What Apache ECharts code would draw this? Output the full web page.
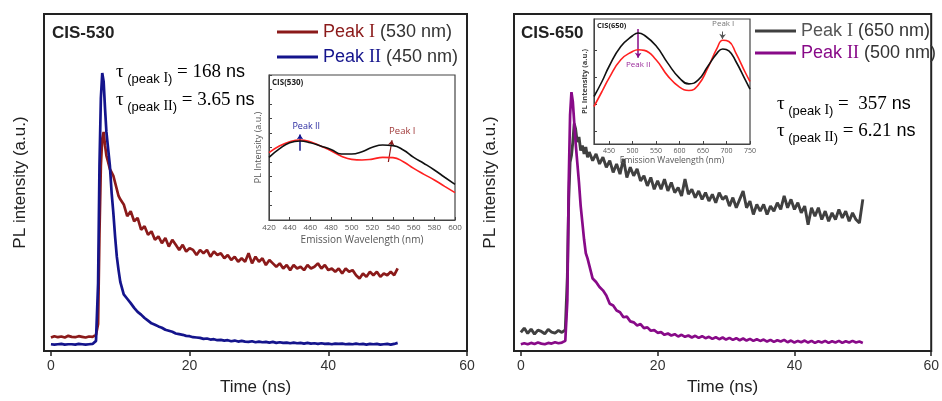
<!DOCTYPE html>
<html><head><meta charset="utf-8">
<script src="https://cdn.jsdelivr.net/npm/echarts@6/dist/echarts.min.js"></script>
<style>html,body{margin:0;padding:0;background:#fff}#c{width:942px;height:401px}</style>
</head><body><div id="c"></div>
<script>
// ---------- main decay data ----------
const timeNs = [0,0.5,1,1.5,2,2.5,3,3.5,4,4.5,5,5.5,6,6.5,
  6.8,7.0,7.2,7.4,7.6,7.8,8.0,8.25,8.5,8.75,9,9.25,9.5,9.75,10,
  10.5,11,11.5,12,12.5,13,13.5,14,14.5,15,
  15.5,16,16.5,17,17.5,18,18.5,19,19.5,20,
  20.5,21,21.5,22,22.5,23,23.5,24,24.5,25,
  25.5,26,26.5,27,27.5,28,28.5,29,29.5,30,
  30.5,31,31.5,32,32.5,33,33.5,34,34.5,35,
  35.5,36,36.5,37,37.5,38,38.5,39,39.5,40,
  40.5,41,41.5,42,42.5,43,43.5,44,44.5,45,
  45.5,46,46.5,47,47.5,48,48.5,49,49.5,50];

const cis530PeakI = [4.0,4.4,4.1,4.3,4.0,4.5,4.2,4.1,4.4,4.2,4.0,4.3,4.2,4.8,
  8,35,55,63,65,61,58,56,54,53,52,50,48,46,45,
  43.5,40.0,41.5,38.5,39.5,36.0,37.0,34.5,35.5,33.0,
  34.0,32.0,33.5,31.0,33.0,31.5,30.0,31.5,29.5,30.5,
  30.0,28.5,30.0,29.0,30.0,28.0,29.5,28.5,29.0,27.5,
  28.5,27.0,28.0,26.5,27.5,26.5,29.0,26.0,28.0,26.5,
  27.5,25.5,27.0,26.0,25.0,26.0,24.5,25.5,24.0,25.5,
  24.5,25.0,24.0,25.5,24.5,25.0,26.0,24.5,25.5,24.0,
  24.5,23.5,24.5,23.0,24.5,23.5,24.0,22.5,21.5,23.0,
  22.0,23.5,22.5,23.5,22.0,23.0,22.5,23.5,22.5,24.5];

const cis530PeakII = [2.0,1.9,2.0,2.1,1.9,2.0,2.0,1.9,2.1,2.0,1.9,2.0,2.1,3.0,
  20,55,75,82.5,80,72,65,60,55,47,41,34,28,24,20.5,
  16.8,15.5,14.2,12.8,11.6,10.8,9.8,9.0,8.2,7.8,
  7.3,6.9,6.3,6.0,5.7,5.2,5.0,4.8,4.5,4.4,
  4.1,4.0,3.9,3.6,3.7,3.4,3.5,3.2,3.3,3.1,
  3.2,2.9,3.1,2.8,3.0,2.8,2.7,2.9,2.6,2.8,
  2.6,2.7,2.5,2.7,2.4,2.6,2.4,2.5,2.3,2.5,
  2.3,2.4,2.2,2.4,2.2,2.3,2.1,2.3,2.1,2.2,
  2.0,2.2,2.1,2.2,2.0,2.1,2.0,2.2,2.0,2.1,
  1.9,2.1,2.0,2.1,1.9,2.0,2.1,1.9,2.1,2.4];

const cis650PeakI = [5.5,6.8,5.2,6.5,5.0,6.2,5.8,5.1,6.4,5.6,5.3,6.1,5.5,6.3,
  22,45,56,58,62,67.5,66,62,63.5,59.5,61,58.5,60.5,57.5,59,
  56.5,58.5,55.5,57.5,54.5,56.5,53.0,55.5,52.5,57.0,
  51.5,54.5,52.0,54.0,50.5,52.0,49.0,51.5,48.0,50.5,
  48.0,51.0,47.5,50.0,47.0,48.5,46.0,51.0,46.5,48.0,
  45.5,47.5,45.0,47.0,44.5,46.5,44.0,47.0,45.0,46.0,
  43.0,45.5,42.5,45.0,47.5,42.5,44.5,40.5,43.5,41.5,
  43.5,40.5,43.0,41.5,44.0,42.0,46.0,42.5,45.0,42.0,
  44.0,41.0,43.0,37.5,42.5,40.0,42.5,39.0,41.5,38.5,
  41.0,39.0,42.0,39.5,41.5,38.5,41.0,39.0,38.0,45.0];

const cis650PeakII = [2.0,2.3,2.0,2.4,2.1,2.5,2.2,2.0,2.4,2.2,2.6,2.3,2.5,3.0,
  15,50,70,76.8,74,68,62,56,50,43,38,33,29,27.5,25.5,
  21.5,20.5,19.0,18.0,16.5,14.0,13.5,12.0,11.5,10.0,
  10.2,8.8,8.5,7.6,8.0,6.8,7.0,6.0,6.2,5.4,
  5.6,4.8,5.2,4.6,5.0,4.3,4.8,4.2,4.6,4.0,
  4.5,3.9,4.4,3.8,4.2,3.6,4.1,3.5,4.0,3.4,
  3.9,3.3,3.8,3.2,3.7,3.1,3.6,3.0,3.5,3.0,
  3.4,2.8,3.3,2.7,3.2,2.8,3.3,2.6,3.1,2.5,
  3.0,2.6,3.1,2.5,3.0,2.4,2.9,2.5,3.0,2.4,
  2.9,2.5,3.0,2.4,2.9,2.5,3.0,2.5,2.8,2.4];

const timeTicks = [0,20,40,60];

// ---------- inset emission spectra ----------
const wl530 = [420,430,440,450,460,470,480,490,500,510,520,530,540,550,560,570,580,590,600];
const pl530Black = [4.32,4.9,5.33,5.45,5.33,5.1,4.87,4.55,4.55,4.71,5.01,5.17,5.13,4.83,4.32,3.9,3.45,2.95,2.46];
const pl530Red = [4.64,5.1,5.4,5.52,5.4,5.1,4.78,4.4,4.18,4.14,4.2,4.32,4.3,4.02,3.56,3.15,2.76,2.32,1.89];

const wl650 = [418,435,450,475,500,512,525,550,575,600,620,640,660,680,692,705,720,740,750];
const pl650Black = [3.8,5.0,6.2,7.8,8.66,8.88,8.7,7.86,6.47,5.27,4.81,5.13,6.2,7.27,7.6,7.45,6.6,5.13,4.39];
const pl650Red = [3.0,4.2,5.27,6.74,7.4,7.54,7.49,6.74,5.45,4.55,4.28,4.73,6.07,7.67,8.3,8.2,7.27,5.72,5.0];
const wl650Ticks = [450,500,550,600,650,700,750];

const C_RED = '#8b1a1a', C_BLUE = '#14148c', C_GRAY = '#404040', C_PURP = '#880a88';
const SANS = 'Liberation Sans, Arial, sans-serif';
const SERIF = 'Liberation Serif, Times New Roman, serif';

const zip = (xs, ys) => xs.map((x, i) => [x, ys[i]]);

const chart = echarts.init(document.getElementById('c'), null, {renderer: 'canvas'});

function mainX(gi) {
  return {
    gridIndex: gi, type: 'value', min: -1, max: 60,
    axisLine: {show: true, lineStyle: {color: '#222', width: 2}},
    axisTick: {show: true, customValues: timeTicks, length: 5, lineStyle: {color: '#222', width: 1.5}},
    axisLabel: {customValues: timeTicks, fontSize: 14, color: '#333', margin: 8, fontFamily: SANS},
    splitLine: {show: false},
    name: 'Time (ns)', nameLocation: 'middle', nameGap: 28,
    nameTextStyle: {fontSize: 17, color: '#222', fontFamily: SANS}
  };
}
function mainY(gi) {
  return {
    gridIndex: gi, type: 'value', min: 0, max: 100,
    axisLine: {show: false}, axisTick: {show: false}, axisLabel: {show: false}, splitLine: {show: false},
    name: 'PL intensity (a.u.)', nameLocation: 'middle', nameGap: 15,
    nameTextStyle: {fontSize: 17, color: '#222', fontFamily: SANS}
  };
}

const legendRich = {
  r: {color: C_RED, fontSize: 18, fontFamily: SANS},
  rs: {color: C_RED, fontSize: 18, fontFamily: SERIF},
  b: {color: C_BLUE, fontSize: 18, fontFamily: SANS},
  bs: {color: C_BLUE, fontSize: 18, fontFamily: SERIF},
  g: {color: '#555', fontSize: 18, fontFamily: SANS},
  gs: {color: '#555', fontSize: 18, fontFamily: SERIF},
  p: {color: C_PURP, fontSize: 18, fontFamily: SANS},
  ps: {color: C_PURP, fontSize: 18, fontFamily: SERIF},
  k: {color: '#333', fontSize: 18, fontFamily: SANS}
};
const legendFmt = {
  'Peak I (530 nm)': '{r|Peak }{rs|I}{k| (530 nm)}',
  'Peak II (450 nm)': '{b|Peak }{bs|II}{k| (450 nm)}',
  'Peak I (650 nm)': '{g|Peak }{gs|I}{k| (650 nm)}',
  'Peak II (500 nm)': '{p|Peak }{ps|II}{k| (500 nm)}'
};

const tauRich = (subColor) => ({
  t: {fontSize: 19, fontFamily: SERIF, color: '#222', verticalAlign: 'middle', lineHeight: 26},
  s: {fontSize: 13, fontFamily: SANS, color: subColor, verticalAlign: 'bottom', lineHeight: 26},
  ss: {fontSize: 14, fontFamily: SERIF, color: subColor, verticalAlign: 'bottom', lineHeight: 26},
  e: {fontSize: 19, fontFamily: SERIF, color: '#222', verticalAlign: 'middle', lineHeight: 26},
  n: {fontSize: 18, fontFamily: SANS, color: '#222', verticalAlign: 'middle', lineHeight: 26}
});

function insetText(coord, text, color, size) {
  return {coord: coord, symbol: 'circle', symbolSize: 1, itemStyle: {color: 'rgba(0,0,0,0)'},
    label: {show: true, position: 'inside', formatter: text, color: color, fontSize: size, fontFamily: 'Open Sans, sans-serif'}};
}

const option = {
  backgroundColor: '#fff',
  animation: false,
  grid: [
    {left: 44, top: 14, width: 423, height: 342, show: true, borderColor: '#222', borderWidth: 2, backgroundColor: '#fff'},
    {left: 514, top: 14, width: 423, height: 342, show: true, borderColor: '#222', borderWidth: 2, backgroundColor: '#fff'},
    {left: 269, top: 75, width: 186, height: 145, show: true, borderColor: '#444', borderWidth: 1.2, backgroundColor: '#fff', z: 5},
    {left: 594, top: 19, width: 156, height: 125, show: true, borderColor: '#444', borderWidth: 1.2, backgroundColor: '#fff', z: 5}
  ],
  xAxis: [
    mainX(0), mainX(1),
    {gridIndex: 2, type: 'value', min: 420, max: 600, interval: 20, z: 6,
      axisLine: {show: true, lineStyle: {color: '#444'}},
      axisTick: {inside: true, length: 3, lineStyle: {color: '#444'}},
      axisLabel: {fontSize: 8, color: '#555', margin: 4, fontFamily: 'Open Sans, sans-serif'},
      splitLine: {show: false},
      name: 'Emission Wavelength (nm)', nameLocation: 'middle', nameGap: 15,
      nameTextStyle: {fontSize: 10, color: '#555', fontFamily: 'Open Sans, sans-serif'}},
    {gridIndex: 3, type: 'value', min: 418, max: 750, z: 6,
      axisLine: {show: true, lineStyle: {color: '#444'}},
      axisTick: {inside: true, length: 3, customValues: wl650Ticks, lineStyle: {color: '#444'}},
      axisLabel: {customValues: wl650Ticks, fontSize: 7, color: '#555', margin: 3, fontFamily: 'Open Sans, sans-serif'},
      splitLine: {show: false},
      name: 'Emission Wavelength (nm)', nameLocation: 'middle', nameGap: 12,
      nameTextStyle: {fontSize: 8.5, color: '#555', fontFamily: 'Open Sans, sans-serif'}}
  ],
  yAxis: [
    mainY(0), mainY(1),
    {gridIndex: 2, type: 'value', min: 0, max: 10, interval: 1, z: 6,
      axisLine: {show: true, lineStyle: {color: '#444'}},
      axisTick: {inside: true, length: 3, lineStyle: {color: '#444'}},
      axisLabel: {show: false}, splitLine: {show: false},
      name: 'PL Intensity (a.u.)', nameLocation: 'middle', nameGap: 6,
      nameTextStyle: {fontSize: 9, color: '#555', fontFamily: 'Open Sans, sans-serif'}},
    {gridIndex: 3, type: 'value', min: 0, max: 10, z: 6,
      axisLine: {show: true, lineStyle: {color: '#444'}},
      axisTick: {inside: true, length: 3, customValues: [1.05, 3.2, 5.35, 7.5], lineStyle: {color: '#444'}},
      axisLabel: {show: false}, splitLine: {show: false},
      name: 'PL Intensity (a.u.)', nameLocation: 'middle', nameGap: 5,
      nameTextStyle: {fontSize: 7.5, fontWeight: 'bold', color: '#444', fontFamily: 'Open Sans, sans-serif'}}
  ],
  legend: [
    {data: ['Peak I (530 nm)', 'Peak II (450 nm)'], left: 277, top: 22, padding: 0, orient: 'vertical', itemGap: 5,
      icon: 'rect', itemWidth: 41, itemHeight: 3,
      formatter: n => legendFmt[n], textStyle: {fontSize: 18, lineHeight: 20, rich: legendRich}},
    {data: ['Peak I (650 nm)', 'Peak II (500 nm)'], left: 755, top: 21, padding: 0, orient: 'vertical', itemGap: 2,
      icon: 'rect', itemWidth: 41, itemHeight: 3,
      formatter: n => legendFmt[n], textStyle: {fontSize: 18, lineHeight: 20, rich: legendRich}}
  ],
  series: [
    {name: 'Peak I (530 nm)', type: 'line', xAxisIndex: 0, yAxisIndex: 0, data: zip(timeNs, cis530PeakI),
      showSymbol: false, color: C_RED, lineStyle: {width: 2.7, color: C_RED}},
    {name: 'Peak II (450 nm)', type: 'line', xAxisIndex: 0, yAxisIndex: 0, data: zip(timeNs, cis530PeakII),
      showSymbol: false, color: C_BLUE, lineStyle: {width: 2.7, color: C_BLUE}},
    {name: 'Peak I (650 nm)', type: 'line', xAxisIndex: 1, yAxisIndex: 1, data: zip(timeNs, cis650PeakI),
      showSymbol: false, color: C_GRAY, lineStyle: {width: 2.9, color: C_GRAY}},
    {name: 'Peak II (500 nm)', type: 'line', xAxisIndex: 1, yAxisIndex: 1, data: zip(timeNs, cis650PeakII),
      showSymbol: false, color: C_PURP, lineStyle: {width: 2.7, color: C_PURP}},
    {name: 'inset530black', type: 'line', xAxisIndex: 2, yAxisIndex: 2, data: zip(wl530, pl530Black), z: 7,
      smooth: true, showSymbol: false, lineStyle: {width: 1.6, color: '#111'}, color: '#111',
      markLine: {silent: true, symbol: ['arrow', 'none'], symbolSize: 5, label: {show: false}, animation: false,
        data: [
          [{coord: [450, 5.9], lineStyle: {color: C_BLUE, width: 1.5, type: 'solid'}, itemStyle: {color: C_BLUE}}, {coord: [450, 4.78]}],
          [{coord: [539, 5.5], lineStyle: {color: C_RED, width: 1.2, type: 'solid'}, itemStyle: {color: C_RED}}, {coord: [535.5, 4.0]}]
        ]},
      markPoint: {silent: true, data: [
        insetText([456, 6.45], 'Peak II', '#2a2aa0', 9),
        insetText([549, 6.15], 'Peak I', '#a03a3a', 9.5)
      ]}},
    {name: 'inset530red', type: 'line', xAxisIndex: 2, yAxisIndex: 2, data: zip(wl530, pl530Red), z: 6,
      smooth: true, showSymbol: false, lineStyle: {width: 1.6, color: '#ff2020'}, color: '#ff2020'},
    {name: 'inset650black', type: 'line', xAxisIndex: 3, yAxisIndex: 3, data: zip(wl650, pl650Black), z: 7,
      smooth: true, showSymbol: false, lineStyle: {width: 1.6, color: '#111'}, color: '#111',
      markLine: {silent: true, symbol: ['none', 'arrow'], symbolSize: 5, label: {show: false}, animation: false,
        data: [
          [{coord: [512, 9.2], lineStyle: {color: C_PURP, width: 1.5, type: 'solid'}, itemStyle: {color: C_PURP}}, {coord: [512, 6.9]}],
          [{coord: [692, 9.0], lineStyle: {color: '#555', width: 1, type: 'solid'}, itemStyle: {color: '#555'}}, {coord: [691, 8.4]}]
        ]},
      markPoint: {silent: true, data: [
        insetText([512, 6.35], 'Peak II', '#9a2a9a', 8),
        insetText([693, 9.6], 'Peak I', '#777', 8)
      ]}},
    {name: 'inset650red', type: 'line', xAxisIndex: 3, yAxisIndex: 3, data: zip(wl650, pl650Red), z: 6,
      smooth: true, showSymbol: false, lineStyle: {width: 1.6, color: '#ff2020'}, color: '#ff2020'}
  ],
  graphic: [
    {type: 'text', left: 52, top: 25, z: 10, style: {text: 'CIS-530', font: 'bold 17px ' + SANS, fill: '#222'}},
    {type: 'text', left: 521, top: 25, z: 10, style: {text: 'CIS-650', font: 'bold 17px ' + SANS, fill: '#222'}},
    {type: 'text', left: 116, top: 63, z: 10, style: {text: '{t|τ}{s| (peak }{ss|I}{s|)}{e| = 168}{n| ns}', rich: tauRich(C_RED)}},
    {type: 'text', left: 116, top: 91, z: 10, style: {text: '{t|τ}{s| (peak }{ss|II}{s|)}{e| = 3.65}{n| ns}', rich: tauRich(C_BLUE)}},
    {type: 'text', left: 777, top: 95, z: 10, style: {text: '{t|τ}{s| (peak }{ss|I}{s|)}{e| =  357}{n| ns}', rich: tauRich('#555')}},
    {type: 'text', left: 777, top: 122, z: 10, style: {text: '{t|τ}{s| (peak }{ss|II}{s|)}{e| = 6.21}{n| ns}', rich: tauRich(C_PURP)}},
    {type: 'text', left: 272, top: 79, z: 10, style: {text: 'CIS(530)', font: 'bold 8px Open Sans, sans-serif', fill: '#222'}},
    {type: 'text', left: 597, top: 22, z: 10, style: {text: 'CIS(650)', font: 'bold 7.5px Open Sans, sans-serif', fill: '#222'}}
  ]
};
chart.setOption(option);
</script>
</body></html>
